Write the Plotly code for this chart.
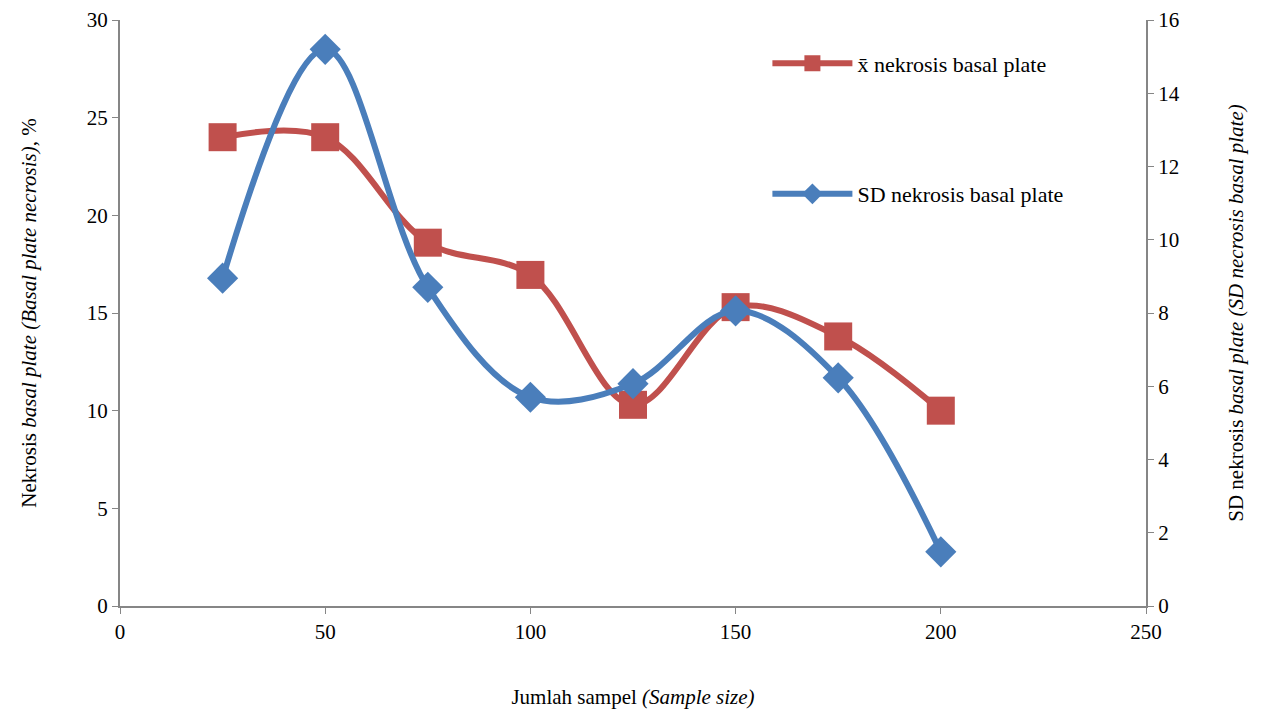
import plotly.graph_objects as go

sample_size = [25, 50, 75, 100, 125, 150, 175, 200]
mean_necrosis = [24.0, 24.0, 18.6, 16.95, 10.3, 15.3, 13.8, 10.0]
sd_necrosis = [8.95, 15.2, 8.7, 5.7, 6.07, 8.06, 6.23, 1.48]

RED = "#C0504D"
BLUE = "#4A7EBB"
FONT = "Liberation Serif, Times New Roman, serif"

fig = go.Figure()
fig.add_trace(go.Scatter(
    x=sample_size, y=mean_necrosis, name="x\u0304 nekrosis basal plate",
    mode="lines+markers", line=dict(color=RED, width=6, shape="spline"),
    marker=dict(symbol="square", size=28, color=RED), legend="legend", yaxis="y"))
fig.add_trace(go.Scatter(
    x=sample_size, y=sd_necrosis, name="SD nekrosis basal plate",
    mode="lines+markers", line=dict(color=BLUE, width=6, shape="spline"),
    marker=dict(symbol="diamond", size=24, color=BLUE), legend="legend2", yaxis="y2"))

axcol = "#868686"
fig.update_layout(
    width=1263, height=713,
    margin=dict(l=120, r=117, t=20, b=107),
    paper_bgcolor="white", plot_bgcolor="white",
    font=dict(family=FONT, size=21, color="black"),
    xaxis=dict(range=[0, 250], dtick=50, tick0=0, showgrid=False, zeroline=False,
               showline=True, linecolor=axcol, linewidth=2, ticks="outside",
               tickcolor=axcol, ticklen=6, tickwidth=1, automargin=False,
               tickfont=dict(size=21, family=FONT),
               title=dict(text="Jumlah sampel <i>(Sample size)</i>", standoff=46,
                          font=dict(size=21, family=FONT))),
    yaxis=dict(range=[0, 30], dtick=5, tick0=0, showgrid=False, zeroline=False,
               showline=True, linecolor=axcol, linewidth=2, ticks="outside",
               tickcolor=axcol, ticklen=6, tickwidth=1, automargin=False,
               tickfont=dict(size=21, family=FONT),
               title=dict(text="Nekrosis <i>basal plate (Basal plate necrosis)</i>, %",
                          standoff=44, font=dict(size=21, family=FONT))),
    yaxis2=dict(range=[0, 16], dtick=2, tick0=0, overlaying="y", side="right",
                showgrid=False, zeroline=False, showline=True, linecolor=axcol,
                linewidth=2, ticks="outside", tickcolor=axcol, ticklen=6, tickwidth=1,
                automargin=False,
                tickfont=dict(size=21, family=FONT),
                title=dict(text="SD nekrosis <i>basal plate (SD necrosis basal plate)</i>",
                           standoff=50, font=dict(size=21, family=FONT))),
    legend=dict(x=0.631, y=0.926, xanchor="left", yanchor="middle",
                bgcolor="rgba(0,0,0,0)", font=dict(size=22, family=FONT), itemwidth=80),
    legend2=dict(x=0.631, y=0.703, xanchor="left", yanchor="middle",
                 bgcolor="rgba(0,0,0,0)", font=dict(size=22, family=FONT), itemwidth=80),
    showlegend=True,
)

fig.write_html("out.html")
